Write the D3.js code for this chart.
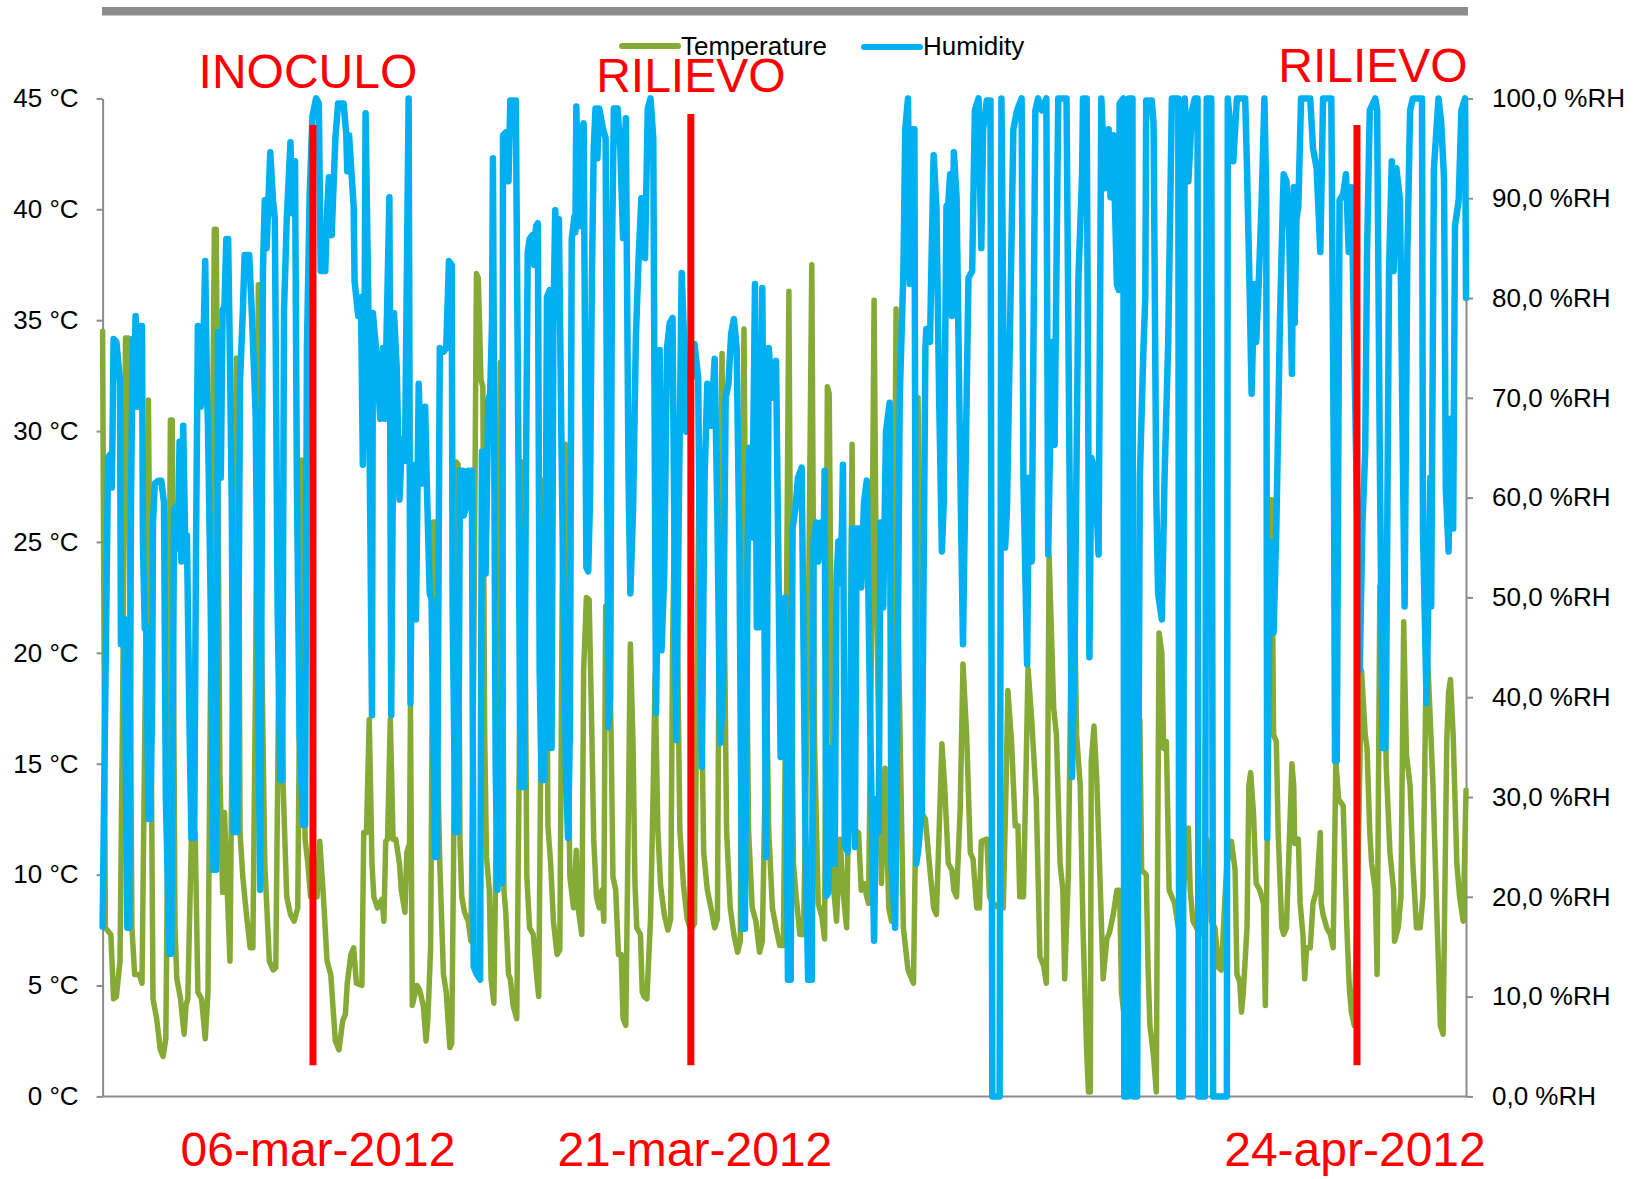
<!DOCTYPE html>
<html>
<head>
<meta charset="utf-8">
<script src="https://cdn.jsdelivr.net/npm/d3@7"></script>
<style>
  body { margin: 0; background: #fff; }
  svg text { font-family: "Liberation Sans", Arial, sans-serif; }
</style>
</head>
<body>
<svg id="chart" width="1642" height="1179"></svg>
<script>
// Readings: [hour since start, value]
var tempTicks = [0, 5, 10, 15, 20, 25, 30, 35, 40, 45];
var humTicks = [0, 10, 20, 30, 40, 50, 60, 70, 80, 90, 100];

var tempPts = [
  [0,34.5],[3,7.6],[9,7.3],[12,4.4],[15,4.5],[19,6.1],[22,18.3],[25,34.2],[28,34.2],[32,7.6],[35,5.5],[40,5.5],[43,5.1],[46,16.3],[50,31.4],[53,16.3],[55,4.4],[59,3.5],[63,2.1],[66,1.8],[69,2.6],[72,16.3],[74,30.5],[76,30.5],[79,7.6],[81,5.3],[85,4.4],[89,2.8],[91,4.1],[93,4.4],[97,11.9],[101,11.9],[104,4.7],[108,4.4],[112,2.6],[115,4.7],[119,25],[122,39.1],[124,39.1],[128,14.6],[131,9.2],[133,12.8],[136,9.3],[139,6.1],[142,19.2],[146,33.3],[148,33.1],[150,11.9],[153,9.9],[157,8.2],[161,6.7],[164,6.7],[167,19.2],[170,36.6],[172,25],[177,10.5],[182,6.1],[186,5.7],[189,5.8],[192,18],[194,24],[197,14],[201,9],[205,8.2],[209,7.9],[213,8.5],[215,18],[217,28.7],[219,20],[221,11.6],[224,10.5],[227,9],[234,9],[237,11.5],[241,9],[245,6.1],[249,5.5],[254,2.5],[258,2.1],[262,3.4],[265,3.7],[267,5.1],[271,6.4],[274,6.7],[277,5.1],[283,5],[285,11.9],[288,11.9],[291,17],[294,10.5],[296,9],[300,8.5],[305,8.9],[307,7.9],[309,11.5],[311,11.6],[314,17],[317,11.6],[320,11.6],[324,10.5],[326,9.3],[330,8.3],[332,11],[335,11.4],[336,17.6],[338,4.1],[343,5],[346,4.8],[350,4.1],[353,2.5],[355,3.5],[358,6.7],[361,25.9],[363,25.9],[365,16.3],[368,10.5],[372,5.5],[375,4.7],[379,2.2],
  [381,2.4],[383,10.5],[386,28.6],[388,28.5],[390,11.6],[392,9],[395,8.3],[399,7.9],[402,7],[405,19.2],[408,37.1],[410,36.9],[413,32.3],[415,32],[417,16.3],[419,10.8],[422,9.3],[424,5.3],[427,4.2],[431,16.3],[434,33.1],[436,33.1],[438,9.3],[440,8.3],[443,5.5],[445,5.3],[448,4.1],[452,3.5],[455,16.3],[458,28.6],[460,28.6],[463,9.9],[466,7.6],[470,7.3],[474,5.3],[476,4.5],[479,19.2],[482,27.8],[484,27.6],[486,12.2],[489,10.5],[492,7.9],[496,6.4],[499,6.6],[502,25],[505,29.4],[508,16.3],[510,9.9],[514,8.5],[517,11.1],[519,8.5],[523,7.3],[525,19.2],[528,22.5],[531,22.4],[534,16.3],[536,11.6],[539,9],[542,8.5],[545,9.3],[547,7.9],[549,22.1],[552,22.1],[555,16.3],[557,9.9],[560,9.3],[563,6.4],[566,6.4],[568,3.5],[571,3.2],[574,13.4],[576,20.4],[579,15.7],[581,9.6],[583,7.6],[587,7.3],[589,4.7],[591,4.5],[594,4.4],
  [598,8],[601,14],[603,19],[606,12],[609,9.5],[613,8.2],[617,7.5],[620,8],[622,20],[625,28.7],[627,22],[630,12],[634,9.5],[638,8],[642,7.5],[646,7.8],[649,20],[651,28.2],[653,20],[656,11],[660,9.3],[664,8.5],[668,7.6],[671,8],[673,22],[676,33.5],[678,24],[681,12],[685,8.5],[689,7.3],[693,6.5],[696,7],[698,24],[700,34.6],[702,24],[705,12],[709,8.5],[713,7.9],[717,6.5],[720,7],[723,14],[725,17.6],[727,12],[731,8.5],[735,7.6],[739,6.8],[743,6.8],[746,20],[749,36.3],[751,22],[754,10.5],[757,9],[761,7.3],[765,7.3],
  [770,20],[774,37.5],[777,16],[781,8.7],[785,8.1],[788,7.1],[791,32],[793,31.7],[796,16],[798,9.3],[801,7.9],[805,11.6],[808,9.3],[812,7.6],[815,15],[818,29.4],[819,21.5],[821,12],[825,11.9],[828,9.3],[831,9.6],[834,9],[836,8.7],[839,20],[842,35.9],[844,25],[847,16.3],[850,9.6],[854,14.8],[858,8.5],[861,7.9],[863,18],[866,35.5],[868,22],[874,7.6],[879,5.7],[885,5.1],[888,14],[890,31.5],[894,12.8],[898,12.5],[903,10.2],[907,8.5],[910,8.2],[913,12],[916,15.9],[919,14],[923,10.5],[927,10.2],[929,9.3],[932,9],[936,13],[939,19.5],[943,16.3],[947,11],[950,10.7],[954,8.5],[957,8.5],[959,11.5],[965,11.6],[968,9],[972,8.7],[978,8.5],[983,8.5],[986,14],[988,18.3],[992,16],[996,12.2],[999,12.2],[1001,9],[1005,9],[1008,15],[1010,19.3],[1014,17],[1019,13.4],[1023,6.3],[1027,5.9],[1030,5.1],[1033,24.4],[1038,17.5],[1041,16.3],[1045,10.5],[1048,9.3],[1050,5.3],[1054,10],[1059,27],[1063,16.3],[1067,14],[1070,7.6],[1074,2],[1076,0.2],[1078,0.2],[1079,15.1],[1082,16.7],[1085,14.3],[1088,10.5],[1092,5.3],[1096,7.1],[1099,7.4],[1103,8.2],[1107,9.3],[1110,9.3],[1112,4.7],[1116,3.2],[1119,2.6],
  [1125,9],[1128,14],[1132,17],[1134,10.2],[1139,10],[1141,5.8],[1143,3.2],[1147,1.8],[1150,0.2],[1151,8],[1153,20.9],[1156,20],[1158,15.7],[1161,16],[1164,9.3],[1167,9],[1170,8.7],[1174,7.6],[1178,8.5],[1181,10],[1185,12.1],[1187,9.3],[1190,7.9],[1194,7.6],[1198,7.3],[1199,8.5],[1205,11.6],[1207,11],[1210,7.9],[1214,7.6],[1218,5.8],[1221,5.7],[1225,9],[1227,10.5],[1232,11.5],[1236,10.2],[1238,5.5],[1241,5.2],[1243,3.8],[1245,4.7],[1249,7.6],[1251,14],[1253,14.6],[1256,12.8],[1259,9.6],[1263,9.3],[1267,8.7],[1269,4.1],[1272,15],[1276,26.9],[1278,16.3],[1281,16],[1283,11.9],[1287,7.6],[1289,7.3],[1292,7.6],[1298,15],[1300,14],[1301,11.4],[1305,11.6],[1307,8.7],[1310,7.3],[1312,5.3],[1314,6.7],[1318,6.7],[1321,8.7],[1325,9.3],[1329,11.9],[1330,8.7],[1332,8.2],[1336,7.6],[1340,7.3],[1343,6.7],[1346,15.1],[1349,13.4],[1354,13.1],[1358,7.6],[1360,5.5],[1361,4.7],[1363,3.8],[1366,3.2],[1370,10],[1374,19.2],[1378,16.3],[1380,15.7],[1383,11.9],[1385,10.5],[1389,9.3],[1391,5.5],[1394,23],[1398,22],[1401,14.8],[1405,11],[1409,9.3],[1410,7],[1414,7.6],[1417,9],[1420,21.4],[1423,15.4],[1427,14],[1430,10.5],[1434,7.6],[1438,7.6],[1441,9],[1445,20.8],[1449,17],[1452,14],[1456,8.5],[1460,3.2],[1463,2.8],[1467,16],[1469,18.2],[1471,18.8],[1474,16.3],[1478,10.5],[1481,9],[1485,7.9],[1488,13.8]
];

var humPts = [
  [0,17],[6,64],[8,64.3],[10,61],[11,67.5],[12,75.9],[15,75.6],[19,71.7],[20,45.3],[23,45.3],[24,47.8],[27,16.9],[29,16.9],[31,59.8],[33,75.9],[34,69.1],[36,78.2],[38,69.1],[40,77.2],[43,77.2],[44,55.6],[46,46.9],[48,46.9],[50,27.8],[52,27.8],[54,38.8],[55,57.5],[57,61.4],[61,61.7],[64,61.7],[67,59.5],[69,30.1],[73,14.3],[75,14.3],[78,58.8],[80,59.1],[82,54.9],[84,65.6],[86,53.6],[88,67.2],[90,56.2],[92,56.2],[95,36.2],[97,25.9],[100,25.9],[102,55.6],[104,77.2],[107,69.1],[109,71.1],[112,83.7],[114,70.4],[115,67.2],[118,49.1],[121,22.7],[124,22.7],[126,76.6],[129,62],[131,78.8],[133,79.2],[135,85.9],[137,85.9],[139,73.7],[141,58.8],[143,26.5],[147,26.5],[150,71.7],[153,78.5],[155,84.3],[160,84.3],[163,78.2],[167,68.5],[172,20.7],[175,82.7],[177,89.8],[179,85],[183,94.6],[186,89.8],[188,87.9],[191,49.1],[194,31.7],[196,31.7],[198,78.8],[201,87.9],[203,91.7],[205,95.6],[207,88.5],[210,93.7],[212,62],[215,36.2],[219,27.2],[221,27.2],[223,75],[226,90.4],[229,98.2],[233,100],[236,99.5],[238,82.7],[243,82.7],[245,88.8],[247,92.1],[250,86.3],[254,95.9],[257,99.5],[263,99.5],[266,96.3],[267,92.7],[269,96.3],[274,89.2],[275,81.7],[279,78.2],[282,80.1],[284,63.3],[286,78.8],[287,98.5],[290,79.5],[294,38.2],[295,78.5],[299,74.3],[303,67.9],[306,75],[308,67.9],[313,90.1],[315,38.2],[318,78.5],[321,73],[324,59.8],[327,65.9],[330,63.7],[334,100],[336,39.4],[338,63.3],[342,47.8],[345,71.4],[348,61.4],[352,69.1],[354,60.8],[357,50.4],[359,49.8],[363,24],[365,24],[368,75],[372,74.6],[375,75],[378,83.7],
  [381,83.3],[382,49.1],[385,26.5],[388,26.5],[390,62.7],[393,62.7],[394,58.2],[397,59.1],[399,62.7],[403,62.7],[405,13],[408,12.3],[412,11.7],[414,64.6],[416,64.6],[418,52.4],[421,69.8],[423,70.4],[425,77.5],[426,94],[429,33],[431,20.7],[433,33.6],[434,33.6],[436,21.4],[437,96.3],[440,96.6],[443,91.7],[445,99.8],[451,99.8],[454,62],[456,31],[460,31],[462,62],[464,84.6],[466,85.9],[469,86.3],[471,83.3],[473,87.2],[475,87.5],[477,42.7],[479,31.7],[482,31.7],[484,62],[485,80.1],[488,80.8],[489,34.9],[490,34.9],[492,77.5],[494,88.8],[496,82.4],[498,87.9],[501,63.7],[503,50.4],[506,31],[508,25.9],[510,36.9],[512,85.9],[515,88.2],[516,86.6],[517,99.2],[520,87.2],[523,90.1],[524,97.2],[525,97.5],[528,53],[530,52.6],[532,60],[534,82],[536,95],[538,99],[540,94],[542,99],[546,97],[549,96],[552,37],[554,40],[556,85],[558,99],[562,99],[565,95],[568,86],[571,98],[574,62],[576,50.4],[579,59],[582,76],[585,84],[588,90],[592,84],[595,99],[598,100],[601,96],[604,38.4],[607,60],[608,74.8],[610,44.7],[613,52.4],[616,75],[619,77.5],[622,78],[626,35.7],[629,60],[632,82.5],[635,75],[637,66.6],[640,73],[643,72],[646,75.4],[650,72],[654,33],[657,62],[660,71.4],[664,67.2],[668,73.9],[671,58],[674,35.4],[677,40],[680,70],[683,71.4],[686,76.4],[689,77.9],[692,75],[695,55],[698,16.8],[701,16.8],[704,55],[706,65],[709,56],[712,81.4],[714,47],[716,47],[720,81],[724,24],[727,75],[731,70],[735,73.7],[740,34],[745,50],[748,11.7],[751,11.7],[753,56.9],[756,58.8],[759,62],[763,63],
  [767,27],[770,11.7],[774,11.7],[776,55.6],[779,57.5],[781,53.6],[784,57.5],[787,55.6],[788,62.7],[790,20.1],[792,20.4],[794,34.9],[797,23.3],[799,23.3],[801,51.7],[803,55.6],[805,51.4],[807,57.5],[808,63.3],[810,25.2],[813,24.5],[816,33.6],[818,56.9],[821,25],[823,56.9],[826,56.9],[828,51],[831,59.5],[834,61.7],[838,36],[842,15.6],[844,29.8],[847,26.5],[849,57.5],[852,49],[855,66.6],[859,69.5],[861,23.3],[865,16.9],[867,34.9],[870,70],[874,82.7],[876,96.9],[879,100],[881,81.4],[883,96.9],[886,96.9],[888,23.3],[890,24.6],[894,28.5],[898,75],[899,76.9],[903,75.6],[905,85.3],[907,94.3],[910,89.2],[913,70],[916,54.6],[918,59.5],[921,89.2],[923,89.5],[925,92.4],[927,78.2],[929,94.6],[932,90.1],[936,63.3],[939,45.3],[943,70],[945,82],[949,82.7],[950,88],[952,98.8],[956,100],[959,85],[961,96.9],[965,99.8],[969,99.8],[971,0],[979,0],[981,100],[985,55],[987,58.8],[990,75],[994,96.9],[998,98.8],[1003,100],[1005,62],[1009,43.3],[1011,62],[1014,53.6],[1018,98.8],[1021,100],[1025,98.8],[1030,100],[1032,54.3],[1036,75.6],[1039,65.3],[1043,100],[1052,100],[1058,32],[1061,45.9],[1065,82],[1069,92.4],[1070,100],[1074,100],[1077,44],[1079,64],[1083,62.7],[1087,54.3],[1090,100],[1094,91],[1098,96.9],[1100,90.1],[1103,96.3],[1107,81.4],[1109,80.8],[1110,99.5],[1114,100],[1115,0],[1119,0],[1120,100],[1124,100],[1125,0],[1129,0],
  [1132,62],[1136,75],[1138,80.1],[1139,99.8],[1145,99.8],[1147,97.5],[1150,60],[1152,50.4],[1156,47.8],[1159,62],[1163,75.6],[1167,100],[1174,100],[1175,0],[1179,0],[1181,100],[1185,91.7],[1189,98.8],[1192,100],[1195,100],[1196,0],[1203,0],[1205,100],[1210,100],[1212,0],[1227,0],[1228,100],[1234,93.7],[1238,100],[1247,100],[1249,93],[1252,80.1],[1254,70.4],[1257,81.4],[1259,75.6],[1262,82],[1265,89.8],[1268,100],[1270,90],[1271,25.9],[1274,55.6],[1277,55],[1278,46.5],[1281,56.9],[1285,78],[1288,89.2],[1289,92.4],[1292,91.7],[1295,86.6],[1298,72.4],[1300,91.1],[1301,77.5],[1303,87.9],[1305,89.2],[1308,100],[1318,100],[1321,95],[1325,93],[1329,84.6],[1332,100],[1341,100],[1344,60],[1345,33.6],[1347,33.6],[1350,89.8],[1354,90.4],[1357,92.4],[1360,84.6],[1363,91.1],[1367,70],[1372,42.7],[1375,57.5],[1378,64.6],[1380,84.6],[1383,98.8],[1389,100],[1391,98.8],[1394,63.3],[1397,34.9],[1400,34.9],[1401,42.7],[1404,82.7],[1407,93.7],[1409,82.7],[1412,93],[1416,89.8],[1419,64.6],[1421,49.1],[1424,84.6],[1427,98.8],[1430,100],[1440,100],[1441,56.9],[1445,39.4],[1449,62],[1450,49.1],[1453,93],[1458,100],[1461,97.5],[1464,92],[1466,60.8],[1469,54.6],[1471,67.9],[1474,56.9],[1476,87.2],[1480,89.8],[1483,98.8],[1487,100],[1488,80]
];

// Event markers (hour of event)
var markerHours = [229.6, 642, 1369];
var markerNames = ["INOCULO", "RILIEVO", "RILIEVO"];
var markerDates = ["06-mar-2012", "21-mar-2012", "24-apr-2012"];
var markerTopVal = [43.8, 44.3, 43.8];   // in °C units
var markerBottomVal = 1.4;

var totalHours = 1488;

// Layout (note: "top" is taken by window.top, so use other names)
var plotL = 102.6, plotR = 1466, plotT = 98.4, plotB = 1096.4;
var green = "#85AA35", blue = "#00B0F0", red = "#FF0000", grey = "#8C8C8C";
var nameOffset = [[-5, 88], [0, 92], [16, 82]];
var dateOffset = [5, 4, -2];

var svg = d3.select("#chart");

var x = d3.scaleLinear().domain([0, totalHours]).range([plotL, plotR]);
var yT = d3.scaleLinear().domain([0, 45]).range([plotB, plotT]);
var yH = d3.scaleLinear().domain([0, 100]).range([plotB, plotT]);

// top grey band
svg.append("rect")
  .attr("x", 102).attr("y", 7).attr("width", 1366).attr("height", 8.5)
  .attr("fill", grey);

// axes
var fmtT = function(d) { return d + " \u00B0C"; };
var fmtH = function(d) { return d.toFixed(1).replace(".", ",") + " %RH"; };

var gL = svg.append("g").attr("transform", "translate(" + plotL + ",0)")
  .call(d3.axisLeft(yT).tickValues(tempTicks).tickSize(6).tickSizeOuter(0).tickPadding(18).tickFormat(fmtT));
var gR = svg.append("g").attr("transform", "translate(" + plotR + ",0)")
  .call(d3.axisRight(yH).tickValues(humTicks).tickSize(7).tickSizeOuter(0).tickPadding(19).tickFormat(fmtH));

[gL, gR].forEach(function(g) {
  g.select(".domain").attr("stroke", grey).attr("stroke-width", 2);
  g.selectAll(".tick line").attr("stroke", grey).attr("stroke-width", 2);
  g.selectAll(".tick text")
    .attr("fill", "#000")
    .style("font-size", "26px")
    .style("font-family", "'Liberation Sans', Arial, sans-serif");
});

svg.append("line")
  .attr("x1", plotL).attr("x2", plotR)
  .attr("y1", plotB).attr("y2", plotB)
  .attr("stroke", grey).attr("stroke-width", 2);

// series
var lineT = d3.line()
  .x(function(d) { return x(d[0]); })
  .y(function(d) { return yT(d[1]); });
var lineH = d3.line()
  .x(function(d) { return x(d[0]); })
  .y(function(d) { return yH(d[1]); });

svg.append("path")
  .datum(tempPts)
  .attr("d", lineT)
  .attr("fill", "none")
  .attr("stroke", green)
  .attr("stroke-width", 5.5)
  .attr("stroke-linejoin", "round")
  .attr("stroke-linecap", "round");

svg.append("path")
  .datum(humPts)
  .attr("d", lineH)
  .attr("fill", "none")
  .attr("stroke", blue)
  .attr("stroke-width", 6.5)
  .attr("stroke-linejoin", "round")
  .attr("stroke-linecap", "round");

// red event lines + labels
svg.selectAll("line.marker")
  .data(markerHours).enter()
  .append("line")
  .attr("class", "marker")
  .attr("x1", function(d) { return x(d); })
  .attr("x2", function(d) { return x(d); })
  .attr("y1", function(d, i) { return yT(markerTopVal[i]); })
  .attr("y2", yT(markerBottomVal))
  .attr("stroke", red)
  .attr("stroke-width", 7);

svg.selectAll("text.mname")
  .data(markerNames).enter()
  .append("text")
  .attr("class", "mname")
  .attr("x", function(d, i) { return x(markerHours[i]) + nameOffset[i][0]; })
  .attr("y", function(d, i) { return nameOffset[i][1]; })
  .attr("text-anchor", "middle")
  .attr("fill", red)
  .style("font-size", "48px")
  .text(function(d) { return d; });

svg.selectAll("text.mdate")
  .data(markerDates).enter()
  .append("text")
  .attr("class", "mdate")
  .attr("x", function(d, i) { return x(markerHours[i]) + dateOffset[i]; })
  .attr("y", 1166)
  .attr("text-anchor", "middle")
  .attr("fill", red)
  .style("font-size", "48px")
  .text(function(d) { return d; });

// legend
var legend = [
  {name: "Temperature", color: green, x: 622, y: 46},
  {name: "Humidity", color: blue, x: 864, y: 47}
];
legend.forEach(function(l) {
  svg.append("line")
    .attr("x1", l.x).attr("x2", l.x + 56)
    .attr("y1", l.y).attr("y2", l.y)
    .attr("stroke", l.color).attr("stroke-width", 6)
    .attr("stroke-linecap", "round");
  svg.append("text")
    .attr("x", l.x + 59).attr("y", 54.5)
    .attr("fill", "#000")
    .style("font-size", "26px")
    .text(l.name);
});
</script>
</body>
</html>
